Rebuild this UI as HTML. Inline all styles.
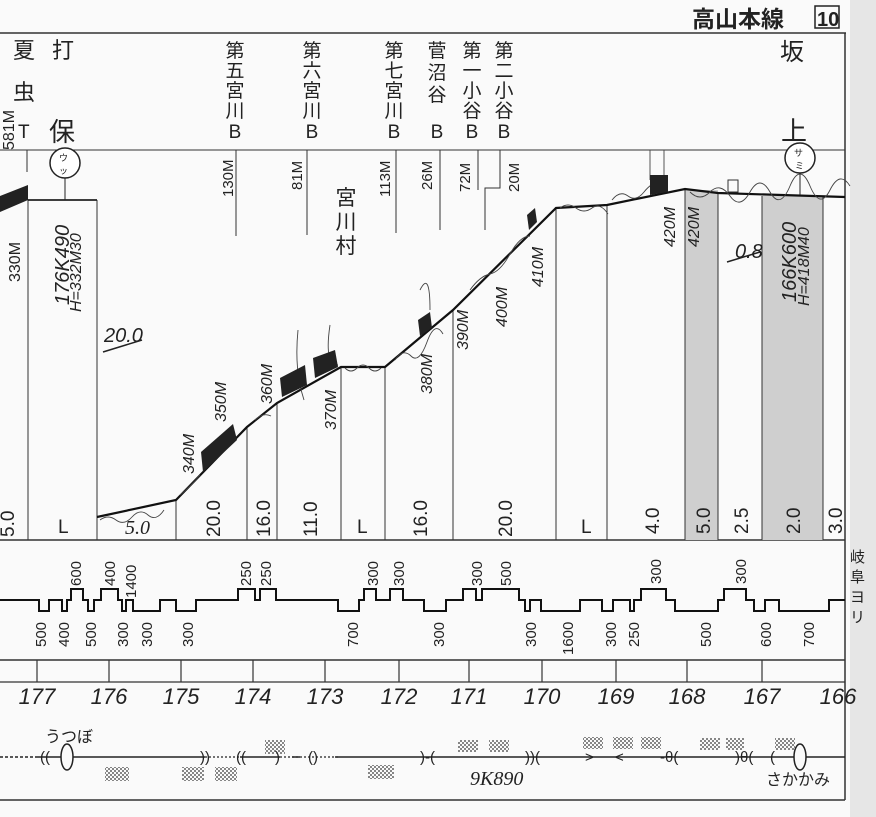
<!DOCTYPE html>
<html><head><meta charset="utf-8"><style>
html,body{margin:0;padding:0;background:#fafafa;}
svg{display:block;}
text{font-family:"Liberation Sans","Noto Sans CJK JP",sans-serif;fill:#222;}
.j{font-family:"Liberation Sans","Noto Sans CJK JP",sans-serif;}
.it{font-family:"Liberation Serif","Noto Serif CJK SC",serif;font-style:italic;}
</style></head><body>
<svg width="876" height="817" viewBox="0 0 876 817" xmlns="http://www.w3.org/2000/svg">
<defs>
<pattern id="dots" width="4" height="4" patternUnits="userSpaceOnUse"><circle cx="1" cy="1" r="0.9" fill="#333"/><circle cx="3" cy="3" r="0.9" fill="#333"/></pattern>
</defs>
<rect x="0" y="0" width="876" height="817" fill="#fafafa"/>
<rect x="850" y="0" width="26" height="817" fill="#e6e6e6"/>
<!-- header -->
<text x="692" y="27" font-size="23" font-weight="bold" class="j">高山本線</text>
<rect x="815" y="6" width="24" height="22" fill="none" stroke="#222" stroke-width="1.5"/>
<text x="817" y="26" font-size="20" font-weight="bold">10</text>
<!-- frame -->
<g stroke="#333" fill="none">
<line x1="0" y1="33" x2="846" y2="33" stroke-width="1.5"/>
<line x1="845" y1="33" x2="845" y2="800" stroke-width="1.5"/>
<line x1="0" y1="150" x2="845" y2="150" stroke-width="1"/>
<line x1="0" y1="540" x2="845" y2="540" stroke-width="1.5"/>
<line x1="0" y1="660" x2="845" y2="660" stroke-width="1.5"/>
<line x1="0" y1="682" x2="845" y2="682" stroke-width="1.2"/>
<line x1="0" y1="800" x2="845" y2="800" stroke-width="1.5"/>
</g>
<!-- gray shaded -->
<rect x="685" y="190" width="33" height="350" fill="#cfcfcf"/>
<rect x="762" y="196" width="61" height="344" fill="#cfcfcf"/>
<!-- grade verticals -->
<g stroke="#333" stroke-width="1">
<line x1="28" y1="200" x2="28" y2="540"/>
<line x1="97" y1="200" x2="97" y2="540"/>
<line x1="176" y1="500" x2="176" y2="540"/>
<line x1="247" y1="427" x2="247" y2="540"/>
<line x1="277" y1="403" x2="277" y2="540"/>
<line x1="341" y1="367" x2="341" y2="540"/>
<line x1="385" y1="367" x2="385" y2="540"/>
<line x1="453" y1="310" x2="453" y2="540"/>
<line x1="556" y1="208" x2="556" y2="540"/>
<line x1="607" y1="205" x2="607" y2="540"/>
<line x1="685" y1="190" x2="685" y2="540"/>
<line x1="718" y1="193" x2="718" y2="540"/>
<line x1="762" y1="196" x2="762" y2="540"/>
<line x1="823" y1="197" x2="823" y2="540"/>
</g>
<!-- profile -->
<polygon points="0,196 28,185 28,200 0,212" fill="#222"/>
<polyline points="28,200 97,200" stroke="#222" stroke-width="1.8" fill="none"/>
<polyline points="97,517 176,500 247,427 277,403 341,367 385,367 453,310 556,208 607,205 685,189 718,193 845,197" stroke="#111" stroke-width="2.2" fill="none"/>
<path d="M100,520 q8,-6 16,0 t16,-3 t16,-2 t16,-5 M180,495 q10,-8 20,-20 M255,420 q8,-8 16,-4 M345,368 q6,6 12,0 t12,0 t12,0 M395,360 q8,-12 16,-4 t16,-14 t16,-8 M470,290 q10,-14 20,-16 t20,-20 t20,-18 M560,208 q8,-6 16,0 t16,0 t16,6 M612,200 q8,-10 16,-4 t16,-4 t16,-10 M690,192 q10,10 20,0 t20,4 t20,-4 t20,0 t20,-6 t20,0 t20,4 t20,-4" stroke="#444" stroke-width="0.9" fill="none"/>
<path d="M298,330 q-4,40 6,70 M330,325 q-6,40 8,40 M420,290 q10,-20 10,20 M650,150 l0,30 M664,150 l0,28" stroke="#444" stroke-width="0.9" fill="none"/>
<g fill="#222">
<polygon points="201,452 233,424 237,440 203,472"/>
<polygon points="280,378 305,365 307,385 282,397"/>
<polygon points="313,358 335,350 338,367 315,378"/>
<polygon points="418,320 430,312 432,328 420,336"/>
<polygon points="527,215 535,208 537,222 529,230"/>
<polygon points="650,175 668,175 668,192 650,195"/>
</g>
<rect x="728" y="180" width="10" height="12" fill="none" stroke="#333"/>
<!-- stations -->
<g font-size="22" class="j">
<text x="13" y="58">夏</text><text x="52" y="58">打</text>
<text x="13" y="100">虫</text>
<text x="18" y="138" font-size="19">T</text>
<text x="49" y="141" font-size="26">保</text>
<text x="780" y="60" font-size="24">坂</text>
<text x="781" y="140" font-size="26">上</text>
</g>
<line x1="27" y1="150" x2="27" y2="172" stroke="#333"/>
<circle cx="65" cy="163" r="15" fill="#fff" stroke="#222" stroke-width="1.5"/>
<text x="59" y="161" font-size="9" class="j">ウ</text><text x="59" y="174" font-size="9" class="j">ッ</text>
<line x1="65" y1="178" x2="65" y2="200" stroke="#222"/>
<circle cx="800" cy="158" r="15" fill="#fff" stroke="#222" stroke-width="1.5"/>
<text x="794" y="156" font-size="9" class="j">サ</text><text x="795" y="169" font-size="9" class="j">ミ</text>
<line x1="800" y1="173" x2="800" y2="195" stroke="#222"/>
<g font-size="16">
<text transform="translate(14,150) rotate(-90)">581M</text>
<text transform="translate(20,282) rotate(-90)">330M</text>
</g>
<g class="it" font-size="20">
<text transform="translate(69,305) rotate(-90)">176K490</text>
<text transform="translate(81,312) rotate(-90)" font-size="16">H=332M30</text>
<text transform="translate(796,302) rotate(-90)">166K600</text>
<text transform="translate(809,306) rotate(-90)" font-size="16">H=418M40</text>
<text x="104" y="342">20.0</text>
<text x="735" y="258">0.8</text>
</g>
<line x1="103" y1="352" x2="142" y2="340" stroke="#222" stroke-width="1.5"/>
<line x1="727" y1="262" x2="760" y2="252" stroke="#222" stroke-width="1.5"/>
<!-- bridges -->
<g font-size="19" class="j" text-anchor="middle">
<text x="235" y="57">第</text><text x="235" y="77">五</text><text x="235" y="97">宮</text><text x="235" y="117">川</text><text x="235" y="138">B</text>
<text x="312" y="57">第</text><text x="312" y="77">六</text><text x="312" y="97">宮</text><text x="312" y="117">川</text><text x="312" y="138">B</text>
<text x="394" y="57">第</text><text x="394" y="77">七</text><text x="394" y="97">宮</text><text x="394" y="117">川</text><text x="394" y="138">B</text>
<text x="437" y="57">菅</text><text x="437" y="79">沼</text><text x="437" y="101">谷</text><text x="437" y="138">B</text>
<text x="472" y="57">第</text><text x="472" y="77">一</text><text x="472" y="97">小</text><text x="472" y="117">谷</text><text x="472" y="138">B</text>
<text x="504" y="57">第</text><text x="504" y="77">二</text><text x="504" y="97">小</text><text x="504" y="117">谷</text><text x="504" y="138">B</text>
<text x="346" y="205" font-size="21">宮</text><text x="346" y="229" font-size="21">川</text><text x="346" y="253" font-size="21">村</text>
</g>
<g stroke="#333">
<line x1="236" y1="150" x2="236" y2="236"/><line x1="307" y1="150" x2="307" y2="235"/>
<line x1="396" y1="150" x2="396" y2="233"/><line x1="440" y1="150" x2="440" y2="230"/>
<line x1="478" y1="150" x2="478" y2="190"/><polyline points="500,150 500,188 485,188 485,230" fill="none"/>
</g>
<g font-size="15">
<text transform="translate(233,197) rotate(-90)">130M</text>
<text transform="translate(302,190) rotate(-90)">81M</text>
<text transform="translate(390,197) rotate(-90)">113M</text>
<text transform="translate(432,190) rotate(-90)">26M</text>
<text transform="translate(470,192) rotate(-90)">72M</text>
<text transform="translate(519,192) rotate(-90)">20M</text>
</g>
<g font-size="16" class="it">
<text transform="translate(194,474) rotate(-90)">340M</text>
<text transform="translate(226,422) rotate(-90)">350M</text>
<text transform="translate(272,404) rotate(-90)">360M</text>
<text transform="translate(336,430) rotate(-90)">370M</text>
<text transform="translate(432,394) rotate(-90)">380M</text>
<text transform="translate(468,350) rotate(-90)">390M</text>
<text transform="translate(507,327) rotate(-90)">400M</text>
<text transform="translate(543,287) rotate(-90)">410M</text>
<text transform="translate(675,247) rotate(-90)">420M</text>
<text transform="translate(699,247) rotate(-90)">420M</text>
</g>
<!-- grade labels -->
<g font-size="19">
<text transform="translate(14,537) rotate(-90)">5.0</text>
<text x="58" y="533">L</text>
<text x="125" y="534" class="it" font-size="20">5.0</text>
<text transform="translate(220,537) rotate(-90)">20.0</text>
<text transform="translate(270,537) rotate(-90)">16.0</text>
<text transform="translate(317,537) rotate(-90)">11.0</text>
<text x="357" y="533">L</text>
<text transform="translate(427,537) rotate(-90)">16.0</text>
<text transform="translate(512,537) rotate(-90)">20.0</text>
<text x="581" y="533">L</text>
<text transform="translate(659,534) rotate(-90)">4.0</text>
<text transform="translate(710,534) rotate(-90)">5.0</text>
<text transform="translate(748,534) rotate(-90)">2.5</text>
<text transform="translate(800,534) rotate(-90)">2.0</text>
<text transform="translate(842,534) rotate(-90)">3.0</text>
</g>
<!-- curves -->
<polyline fill="none" stroke="#111" stroke-width="2" points="0,600 39,600 39,611 49,611 49,600 62,600 62,611 67,611 67,600 71,600 71,589 83,589 83,600 88,600 88,611 94,611 94,600 101,600 101,589 118,589 118,600 122,600 122,611 126,611 126,600 133,600 133,611 160,611 160,600 176,600 176,611 196,611 196,600 238,600 238,589 255,589 255,600 260,600 260,589 276,589 276,600 338,600 338,611 359,611 359,600 364,600 364,589 376,589 376,600 390,600 390,589 403,589 403,600 424,600 424,611 446,611 446,600 463,600 463,589 476,589 476,600 482,600 482,589 519,589 519,600 525,600 525,611 530,611 530,600 541,600 541,611 580,611 580,600 602,600 602,611 613,611 613,600 630,600 630,611 634,611 634,600 641,600 641,589 666,589 666,600 675,600 675,611 718,611 718,600 724,600 724,589 746,589 746,600 754,600 754,611 765,611 765,600 779,600 779,611 829,611 829,600 845,600"/>
<g font-size="15" fill="#333">
<text transform="translate(81,586) rotate(-90)">600</text>
<text transform="translate(115,586) rotate(-90)">400</text>
<text transform="translate(136,598) rotate(-90)">1400</text>
<text transform="translate(251,586) rotate(-90)">250</text>
<text transform="translate(271,586) rotate(-90)">250</text>
<text transform="translate(378,586) rotate(-90)">300</text>
<text transform="translate(404,586) rotate(-90)">300</text>
<text transform="translate(482,586) rotate(-90)">300</text>
<text transform="translate(511,586) rotate(-90)">500</text>
<text transform="translate(661,584) rotate(-90)">300</text>
<text transform="translate(746,584) rotate(-90)">300</text>
<text transform="translate(46,647) rotate(-90)">500</text>
<text transform="translate(69,647) rotate(-90)">400</text>
<text transform="translate(96,647) rotate(-90)">500</text>
<text transform="translate(128,647) rotate(-90)">300</text>
<text transform="translate(152,647) rotate(-90)">300</text>
<text transform="translate(193,647) rotate(-90)">300</text>
<text transform="translate(358,647) rotate(-90)">700</text>
<text transform="translate(444,647) rotate(-90)">300</text>
<text transform="translate(536,647) rotate(-90)">300</text>
<text transform="translate(573,655) rotate(-90)">1600</text>
<text transform="translate(616,647) rotate(-90)">300</text>
<text transform="translate(639,647) rotate(-90)">250</text>
<text transform="translate(711,647) rotate(-90)">500</text>
<text transform="translate(771,647) rotate(-90)">600</text>
<text transform="translate(814,647) rotate(-90)">700</text>
</g>
<g font-size="15" class="j" fill="#555">
<text x="850" y="562">岐</text><text x="850" y="582">阜</text><text x="850" y="602">ヨ</text><text x="850" y="622">リ</text>
</g>
<!-- km -->
<g stroke="#333" stroke-width="1.2">
<line x1="37" y1="660" x2="37" y2="682"/><line x1="109" y1="660" x2="109" y2="682"/>
<line x1="181" y1="660" x2="181" y2="682"/><line x1="253" y1="660" x2="253" y2="682"/>
<line x1="325" y1="660" x2="325" y2="682"/><line x1="399" y1="660" x2="399" y2="682"/>
<line x1="469" y1="660" x2="469" y2="682"/><line x1="542" y1="660" x2="542" y2="682"/>
<line x1="616" y1="660" x2="616" y2="682"/><line x1="687" y1="660" x2="687" y2="682"/>
<line x1="762" y1="660" x2="762" y2="682"/>
</g>
<g font-size="22" class="it" text-anchor="middle">
<text x="37" y="704">177</text><text x="109" y="704">176</text><text x="181" y="704">175</text>
<text x="253" y="704">174</text><text x="325" y="704">173</text><text x="399" y="704">172</text>
<text x="469" y="704">171</text><text x="542" y="704">170</text><text x="616" y="704">169</text>
<text x="687" y="704">168</text><text x="762" y="704">167</text><text x="838" y="704">166</text>
</g>
<!-- bottom track -->
<line x1="0" y1="757" x2="38" y2="757" stroke="#222" stroke-width="1.5" stroke-dasharray="3,2"/>
<line x1="38" y1="757" x2="845" y2="757" stroke="#222" stroke-width="1.5"/>
<g fill="#fafafa" stroke="none">
<rect x="205" y="754" width="35" height="6"/><rect x="280" y="754" width="12" height="6"/>
<rect x="300" y="754" width="35" height="6"/>
</g>
<g stroke="#222" stroke-width="1.2" stroke-dasharray="2,2"><line x1="205" y1="757" x2="240" y2="757"/><line x1="280" y1="757" x2="340" y2="757"/></g>
<ellipse cx="67" cy="757" rx="6" ry="13" fill="#fafafa" stroke="#222" stroke-width="1.5"/>
<ellipse cx="800" cy="757" rx="6" ry="13" fill="#fafafa" stroke="#222" stroke-width="1.5"/>
<g font-size="15" fill="#222"><text x="40" y="762">((</text><text x="200" y="762">))</text><text x="236" y="762">((</text><text x="275" y="762">)</text><text x="308" y="762">()</text><text x="420" y="762">)-(</text><text x="525" y="762">))(</text><text x="585" y="762">&gt;</text><text x="615" y="762">&lt;</text><text x="660" y="762">-θ(</text><text x="735" y="762">)θ(</text><text x="770" y="762">(</text></g>
<text x="45" y="742" font-size="16" class="j">うつぼ</text>
<text x="766" y="785" font-size="16" class="j">さかかみ</text>
<text x="470" y="785" font-size="20" class="it">9K890</text>
<g fill="url(#dots)">
<rect x="105" y="767" width="24" height="14"/><rect x="182" y="767" width="22" height="14"/><rect x="215" y="767" width="22" height="14"/>
<rect x="265" y="740" width="20" height="14"/><rect x="368" y="765" width="26" height="14"/>
<rect x="458" y="740" width="20" height="12"/><rect x="489" y="740" width="20" height="12"/>
<rect x="583" y="737" width="20" height="12"/><rect x="613" y="737" width="20" height="12"/><rect x="641" y="737" width="20" height="12"/>
<rect x="700" y="738" width="20" height="12"/><rect x="726" y="738" width="18" height="12"/><rect x="775" y="738" width="20" height="12"/>
</g>
</svg>
</body></html>
